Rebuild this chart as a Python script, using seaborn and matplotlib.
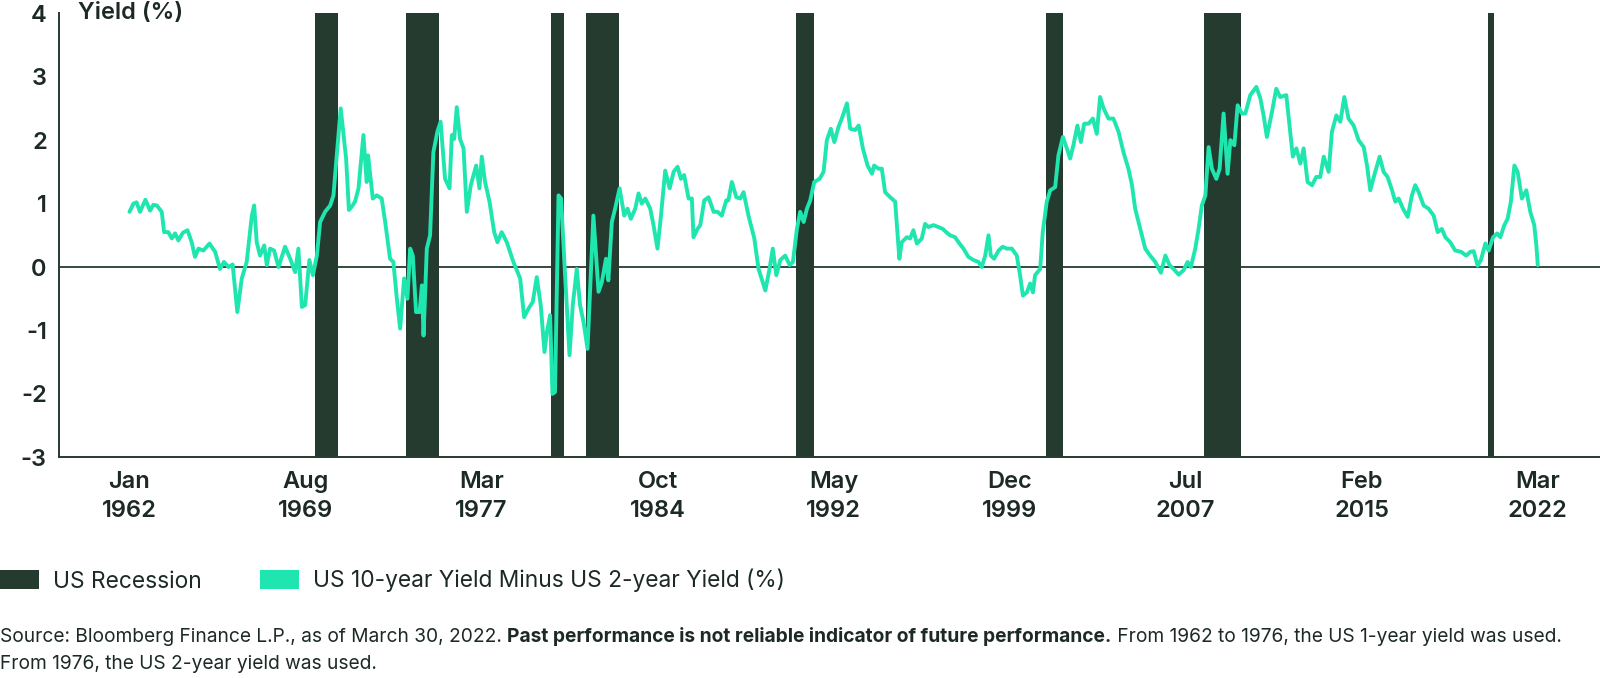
import numpy as np
import pandas as pd
import matplotlib
matplotlib.use("Agg")
import matplotlib.pyplot as plt
import matplotlib.transforms as mtransforms
from matplotlib.patches import Patch
import seaborn as sns

# ---------------- data ----------------
years = [
    1962.00, 1962.17, 1962.30, 1962.45, 1962.68, 1962.88, 1963.02, 1963.17, 1963.38, 1963.48,
    1963.66, 1963.81, 1963.95, 1964.09, 1964.28, 1964.48, 1964.66, 1964.80, 1964.95, 1965.16,
    1965.42, 1965.66, 1965.87, 1966.04, 1966.23, 1966.41, 1966.61, 1966.80, 1967.01, 1967.23,
    1967.33, 1967.44, 1967.58, 1967.76, 1967.87, 1968.01, 1968.18, 1968.37, 1968.65, 1968.87,
    1969.08, 1969.22, 1969.37, 1969.51, 1969.69, 1969.84, 1970.01, 1970.15, 1970.36, 1970.58,
    1970.72, 1970.86, 1971.03, 1971.26, 1971.38, 1971.50, 1971.64, 1971.79, 1972.00, 1972.14,
    1972.20, 1972.40, 1972.57, 1972.78, 1972.93, 1973.14, 1973.28, 1973.43, 1973.57, 1973.74,
    1973.88, 1974.00, 1974.11, 1974.25, 1974.40, 1974.50, 1974.57, 1974.71, 1974.85, 1974.99,
    1975.16, 1975.30, 1975.49, 1975.68, 1975.78, 1975.88, 1975.99, 1976.13, 1976.28, 1976.42,
    1976.59, 1976.82, 1976.96, 1977.06, 1977.20, 1977.39, 1977.59, 1977.73, 1977.91, 1978.13,
    1978.41, 1978.70, 1978.87, 1979.05, 1979.24, 1979.41, 1979.58, 1979.74, 1979.84, 1979.98,
    1980.08, 1980.19, 1980.34, 1980.45, 1980.62, 1980.81, 1980.95, 1981.12, 1981.26, 1981.41,
    1981.58, 1981.83, 1982.05, 1982.19, 1982.37, 1982.47, 1982.62, 1982.76, 1982.95, 1983.15,
    1983.29, 1983.43, 1983.62, 1983.76, 1983.90, 1984.05, 1984.26, 1984.40, 1984.57, 1984.72,
    1984.90, 1985.09, 1985.26, 1985.43, 1985.57, 1985.71, 1985.90, 1986.04, 1986.11, 1986.28,
    1986.40, 1986.57, 1986.75, 1986.97, 1987.14, 1987.32, 1987.51, 1987.60, 1987.75, 1987.94,
    1988.11, 1988.25, 1988.46, 1988.71, 1988.89, 1989.18, 1989.36, 1989.50, 1989.65, 1989.82,
    1990.03, 1990.22, 1990.36, 1990.53, 1990.67, 1990.82, 1990.96, 1991.10, 1991.27, 1991.50,
    1991.67, 1991.81, 1991.98, 1992.13, 1992.31, 1992.45, 1992.67, 1992.81, 1993.02, 1993.17,
    1993.35, 1993.55, 1993.74, 1993.83, 1994.02, 1994.16, 1994.30, 1994.52, 1994.73, 1994.91,
    1995.01, 1995.23, 1995.37, 1995.51, 1995.66, 1995.87, 1996.01, 1996.15, 1996.37, 1996.58,
    1996.77, 1996.91, 1997.08, 1997.29, 1997.48, 1997.65, 1997.86, 1998.08, 1998.29, 1998.43,
    1998.58, 1998.72, 1998.82, 1998.96, 1999.15, 1999.33, 1999.50, 1999.72, 1999.93, 2000.07,
    2000.19, 2000.36, 2000.50, 2000.62, 2000.71, 2000.93, 2001.04, 2001.21, 2001.36, 2001.57,
    2001.71, 2001.90, 2002.07, 2002.21, 2002.35, 2002.52, 2002.67, 2002.81, 2003.00, 2003.18,
    2003.35, 2003.49, 2003.64, 2003.85, 2004.06, 2004.28, 2004.49, 2004.70, 2004.85, 2004.99,
    2005.21, 2005.42, 2005.63, 2005.85, 2006.09, 2006.28, 2006.46, 2006.63, 2006.85, 2007.06,
    2007.23, 2007.37, 2007.56, 2007.70, 2007.84, 2007.99, 2008.13, 2008.27, 2008.46, 2008.60,
    2008.77, 2008.94, 2009.06, 2009.23, 2009.37, 2009.55, 2009.70, 2009.91, 2010.17, 2010.34,
    2010.48, 2010.62, 2010.84, 2011.02, 2011.19, 2011.45, 2011.59, 2011.73, 2011.88, 2012.05,
    2012.19, 2012.36, 2012.55, 2012.73, 2012.90, 2013.05, 2013.26, 2013.40, 2013.59, 2013.76,
    2013.93, 2014.11, 2014.33, 2014.54, 2014.76, 2014.90, 2015.04, 2015.25, 2015.44, 2015.61,
    2015.78, 2015.97, 2016.11, 2016.25, 2016.44, 2016.64, 2016.82, 2016.96, 2017.11, 2017.32,
    2017.53, 2017.75, 2017.92, 2018.10, 2018.25, 2018.46, 2018.67, 2018.92, 2019.14, 2019.32,
    2019.46, 2019.63, 2019.77, 2019.96, 2020.10, 2020.29, 2020.46, 2020.60, 2020.77, 2020.91,
    2021.05, 2021.20, 2021.34, 2021.52, 2021.71, 2021.88, 2022.05, 2022.14, 2022.20,
]
spread = [
    0.87, 1.00, 1.02, 0.87, 1.06, 0.89, 0.98, 0.97, 0.87, 0.55,
    0.55, 0.45, 0.53, 0.42, 0.54, 0.58, 0.39, 0.16, 0.29, 0.26,
    0.37, 0.24, -0.03, 0.08, 0.00, 0.04, -0.71, -0.18, 0.08, 0.81,
    0.97, 0.39, 0.18, 0.34, 0.03, 0.29, 0.26, 0.00, 0.32, 0.13,
    -0.08, 0.29, -0.63, -0.60, 0.11, -0.13, 0.18, 0.71, 0.87, 0.97,
    1.13, 1.76, 2.50, 1.71, 0.90, 0.95, 1.03, 1.24, 2.08, 1.34,
    1.76, 1.08, 1.13, 1.08, 0.71, 0.13, 0.08, -0.50, -0.97, -0.18,
    -0.50, 0.29, 0.18, -0.71, -0.71, -0.29, -1.08, 0.29, 0.50, 1.81,
    2.13, 2.29, 1.39, 1.24, 2.08, 2.02, 2.52, 2.02, 1.87, 0.87,
    1.29, 1.60, 1.24, 1.74, 1.34, 1.03, 0.55, 0.39, 0.55, 0.39,
    0.08, -0.18, -0.79, -0.66, -0.55, -0.16, -0.60, -1.34, -1.03, -0.76,
    -2.00, -1.97, 1.13, 1.08, -0.13, -1.39, -0.60, -0.03, -0.60, -0.87,
    -1.29, 0.81, -0.39, -0.24, 0.13, -0.21, 0.71, 0.92, 1.24, 0.81,
    0.92, 0.76, 0.92, 1.16, 1.00, 1.08, 0.92, 0.66, 0.29, 0.81,
    1.52, 1.24, 1.50, 1.58, 1.39, 1.45, 1.08, 1.08, 0.47, 0.60,
    0.66, 1.05, 1.10, 0.87, 0.87, 0.81, 1.05, 1.05, 1.34, 1.10,
    1.08, 1.18, 0.81, 0.45, -0.03, -0.37, -0.03, 0.29, -0.13, 0.11,
    0.18, 0.03, 0.08, 0.60, 0.87, 0.71, 0.92, 1.05, 1.34, 1.39,
    1.50, 2.00, 2.18, 1.97, 2.21, 2.34, 2.58, 2.18, 2.16, 2.23,
    1.87, 1.60, 1.47, 1.60, 1.55, 1.55, 1.18, 1.10, 1.03, 0.13,
    0.39, 0.47, 0.45, 0.58, 0.37, 0.45, 0.68, 0.63, 0.66, 0.63,
    0.60, 0.55, 0.50, 0.47, 0.37, 0.29, 0.16, 0.11, 0.08, 0.00,
    0.18, 0.50, 0.18, 0.13, 0.26, 0.32, 0.29, 0.29, 0.18, -0.13,
    -0.45, -0.40, -0.26, -0.40, -0.13, -0.03, 0.55, 1.03, 1.21, 1.26,
    1.76, 2.05, 1.87, 1.71, 1.92, 2.23, 1.97, 2.26, 2.26, 2.34,
    2.10, 2.68, 2.50, 2.34, 2.34, 2.13, 1.81, 1.55, 1.30, 0.92,
    0.60, 0.29, 0.18, 0.08, -0.09, 0.18, 0.03, -0.03, -0.12, -0.05,
    0.08, 0.00, 0.29, 0.60, 0.97, 1.13, 1.89, 1.55, 1.39, 1.55,
    2.42, 1.47, 2.00, 1.92, 2.55, 2.42, 2.42, 2.71, 2.84, 2.66,
    2.39, 2.05, 2.45, 2.81, 2.68, 2.71, 2.23, 1.74, 1.87, 1.63,
    1.87, 1.34, 1.29, 1.42, 1.42, 1.74, 1.50, 2.13, 2.39, 2.29,
    2.68, 2.34, 2.23, 2.00, 1.89, 1.60, 1.21, 1.50, 1.74, 1.50,
    1.42, 1.21, 1.03, 1.08, 0.92, 0.79, 1.13, 1.29, 1.18, 0.97,
    0.92, 0.81, 0.55, 0.60, 0.47, 0.39, 0.26, 0.24, 0.18, 0.24,
    0.25, 0.02, 0.11, 0.37, 0.26, 0.47, 0.53, 0.47, 0.66, 0.76,
    1.03, 1.60, 1.50, 1.08, 1.21, 0.87, 0.66, 0.34, 0.03,
]

# US recessions (NBER), start month and end month (inclusive)
recession_start = [(1969, 12), (1973, 11), (1980, 1), (1981, 7), (1990, 7), (2001, 3), (2007, 12), (2020, 2)]
recession_end = [(1970, 11), (1975, 3), (1980, 7), (1982, 11), (1991, 3), (2001, 11), (2009, 6), (2020, 4)]

tick_labels = ["Jan\n1962", "Aug\n1969", "Mar\n1977", "Oct\n1984", "May\n1992",
               "Dec\n1999", "Jul\n2007", "Feb\n2015", "Mar\n2022"]
y_ticks = [-3, -2, -1, 0, 1, 2, 3, 4]

# ---------------- style ----------------
DARK = "#253b30"
MINT = "#1fe6ae"
TEXT = "#1c2a23"

sns.set_theme(style="white")
plt.rcParams["font.family"] = ["Inter", "DejaVu Sans"]
plt.rcParams["text.color"] = TEXT

fig = plt.figure(figsize=(16, 6.78), dpi=100)
W, H = 1600, 678
ax = fig.add_axes([59.3 / W, 1 - 457.3 / H, 1 - 59.3 / W, (457.3 - 13.3) / H])

df = pd.DataFrame({"year": years, "spread": spread})

# recession shading
for (sy, sm), (ey, em) in zip(recession_start, recession_end):
    ax.axvspan(sy + (sm - 1) / 12, ey + em / 12, color=DARK, lw=0, zorder=2)

ax.axhline(0, color=DARK, lw=1.3, zorder=1)

sns.lineplot(data=df, x="year", y="spread", color=MINT, lw=2.8, ax=ax, zorder=3, sort=False)

ax.set_xlim(1959.0, 2024.86)
ax.set_ylim(-3, 4)
tick_pos = np.linspace(years[0], years[-1], len(tick_labels))
ax.set_xticks(tick_pos)
ax.set_xticklabels(tick_labels, fontsize=17, fontweight="semibold", color=TEXT, linespacing=1.4)
ax.set_yticks(y_ticks)
ax.set_yticklabels([str(v) for v in y_ticks], fontsize=17, fontweight="semibold", color=TEXT)
ax.tick_params(axis="x", direction="in", length=6, width=1.3, color=DARK, pad=10)
ax.tick_params(axis="y", direction="in", length=4, width=1.3, color=DARK, pad=9)
ax.set_xlabel("")
ax.set_ylabel("")

for s in ["top", "right"]:
    ax.spines[s].set_visible(False)
for s in ["left", "bottom"]:
    ax.spines[s].set_color(DARK)
    ax.spines[s].set_linewidth(1.4)
    ax.spines[s].set_zorder(4)

trans = mtransforms.blended_transform_factory(ax.transAxes, ax.transData)
ax.text(0.012, 4, "Yield (%)", transform=trans, fontsize=17, fontweight="semibold",
        color=TEXT, va="center", ha="left")

# legend
handles = [Patch(facecolor=DARK, edgecolor="none", label="US Recession"),
           Patch(facecolor=MINT, edgecolor="none", label="US 10-year Yield Minus US 2-year Yield (%)")]
leg = fig.legend(handles=handles, loc="upper left", bbox_to_anchor=(0.0, 1 - 569 / H),
                 ncol=2, frameon=False, fontsize=16.4, handlelength=1.72, handleheight=0.9,
                 handletextpad=0.6, columnspacing=2.55, borderpad=0, borderaxespad=0)
for t in leg.get_texts():
    t.set_color(TEXT)

# source note with bold segment
fig.canvas.draw()
r = fig.canvas.get_renderer()
fs = 13.8
y1 = 1 - 637 / H
y2 = 1 - 664 / H
pieces = [("Source: Bloomberg Finance L.P., as of March 30, 2022. ", "normal"),
          ("Past performance is not reliable indicator of future performance.", "bold"),
          (" From 1962 to 1976, the US 1-year yield was used.", "normal")]
x = 0.0
for txt, wt in pieces:
    t = fig.text(x, y1, txt, fontsize=fs, fontweight=wt, color=TEXT, va="center", ha="left")
    bb = t.get_window_extent(r)
    x = bb.x1 / fig.bbox.width
fig.text(0.0, y2, "From 1976, the US 2-year yield was used.", fontsize=fs, color=TEXT,
         va="center", ha="left")

fig.savefig("out.png", dpi=100, facecolor="white")
